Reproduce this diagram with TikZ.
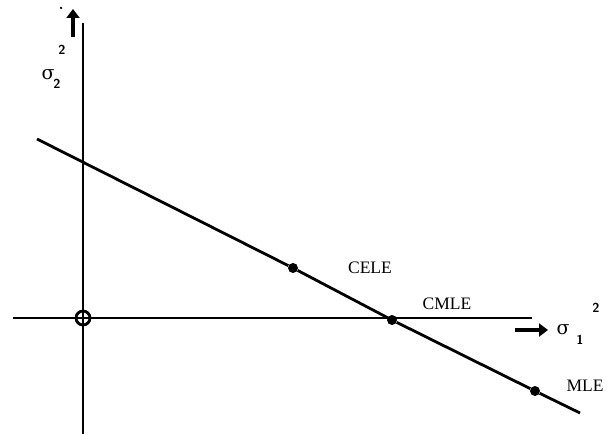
\documentclass[tikz,border=0pt]{standalone}
\usepackage{fontspec}
\newfontfamily\lblfont{Liberation Serif}
\newfontfamily\symfont{DejaVu Serif}
\usetikzlibrary{arrows.meta}
\begin{document}
\begin{tikzpicture}[x=1pt,y=-1pt,
  axis/.style={line width=2.2pt},
  est/.style={line width=2.8pt},
  dotpt/.style={circle,fill=black,inner sep=0pt,minimum size=10pt},
  lbl/.style={font=\lblfont\fontsize{17.5}{19}\selectfont,inner sep=0pt},
  sym/.style={font=\symfont\fontsize{19}{21}\selectfont,inner sep=0pt},
  idx/.style={font=\fontsize{13}{15}\selectfont\bfseries\sffamily,inner sep=0pt},
  bigarrow/.style={line width=3.6pt,-{Triangle[length=9pt,width=13pt]}}]
\useasboundingbox (0,0) rectangle (610,436);
% axes
\coordinate (xl) at (13,318);
\coordinate (xr) at (532,318);
\coordinate (yt) at (83,23);
\coordinate (yb) at (83,434);
\draw[axis] (xl) -- (xr);
\draw[axis] (yt) -- (yb);
\node[circle,draw,line width=2.8pt,fill=white,minimum size=14pt,inner sep=0pt] (o) at (83,318) {};
\draw[line width=1.6pt] (o.west) -- (o.east) (o.north) -- (o.south);
% estimator line
\coordinate (ls) at (37,139);
\coordinate (le) at (580,413);
\node[dotpt] (cele) at (293,268) {};
\node[dotpt] (cmle) at (392,320) {};
\node[dotpt] (mle) at (535,391) {};
\draw[est] (ls) -- (cele) -- (cmle) -- (mle) -- (le);
% labels
\node[lbl] (tcele) at (370,268) {CELE};
\node[lbl] (tcmle) at (447,304) {CMLE};
\node[lbl] (tmle) at (585,386) {MLE};
% vertical axis arrow and label
\coordinate (va0) at (73,37);
\coordinate (va1) at (73,9);
\draw[bigarrow] (va0) -- (va1);
\node[circle,fill=black,inner sep=0pt,minimum size=2.5pt] (tick) at (61,8) {};
\node[idx] (s2sup) at (62,50) {2};
\node[sym] (s2) at (48,75) {σ};
\node[idx] (s2sub) at (57,84) {2};
% horizontal axis arrow and label
\coordinate (ha0) at (515,330);
\coordinate (ha1) at (548,330);
\draw[bigarrow] (ha0) -- (ha1);
\node[sym] (s1) at (563,330) {σ};
\node[idx] (s1sub) at (580,340) {1};
\node[idx] (s1sup) at (596,308) {2};
\end{tikzpicture}
\end{document}
